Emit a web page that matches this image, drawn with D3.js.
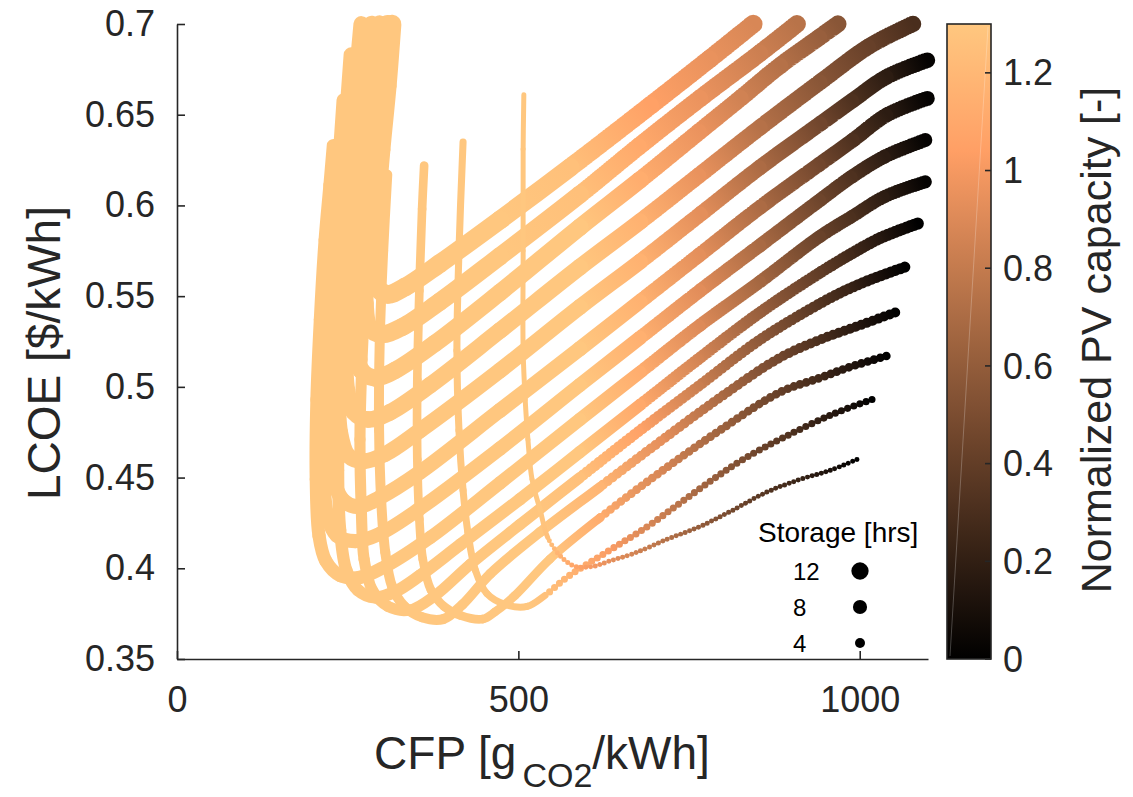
<!DOCTYPE html>
<html>
<head>
<meta charset="utf-8">
<script src="https://cdn.jsdelivr.net/npm/d3@7"></script>
<style>
  body { margin: 0; background: #fff; }
  svg { display: block; font-family: "Liberation Sans", Arial, Helvetica, sans-serif; }
</style>
</head>
<body>
<svg id="chart" width="1133" height="797"></svg>
<script>
// Storage duration of each curve [hrs]
const storageHours = [1, 2, 3, 4, 5, 6, 7, 8, 9, 10, 11, 12, 13, 14];

// Each point: [CFP gCO2/kWh, LCOE $/kWh, normalized PV capacity]
const curveS1 = [[996,0.460,0.00],[957,0.454,0.10],[913,0.449,0.22],[864,0.442,0.34],[814,0.432,0.47],[766,0.423,0.60],[718,0.416,0.73],[668,0.408,0.86],[634,0.404,0.94],[609,0.401,1.00],[583,0.401,1.08],[561,0.407,1.16],[543,0.417,1.25],[532,0.432,1.35],[520,0.449,1.50],[514,0.471,1.70],[510,0.493,1.90],[507,0.520,2.20],[507,0.575,2.70],[507,0.631,3.20],[508,0.661,3.50]];
const curveS2 = [[1018,0.493,0.00],[961,0.485,0.15],[888,0.472,0.35],[829,0.460,0.50],[785,0.449,0.62],[737,0.436,0.75],[689,0.423,0.88],[634,0.410,1.02],[571,0.395,1.18],[539,0.385,1.26],[513,0.379,1.33],[481,0.380,1.42],[454,0.386,1.50],[437,0.399,1.60],[426,0.420,1.75],[419,0.443,1.95],[413,0.476,2.20],[410,0.520,2.60],[413,0.575,3.10],[419,0.635,3.60]];
const curveS3 = [[1039,0.517,0.00],[986,0.511,0.14],[942,0.505,0.26],[883,0.497,0.41],[795,0.476,0.65],[708,0.453,0.88],[620,0.428,1.12],[546,0.405,1.30],[495,0.385,1.45],[466,0.376,1.55],[448,0.372,1.65],[415,0.374,1.75],[391,0.379,1.85],[372,0.388,1.95],[360,0.405,2.10],[355,0.427,2.30],[352,0.460,2.60],[352,0.504,3.00],[355,0.553,3.40],[359,0.598,3.80],[362,0.622,4.00]];
const curveS4 = [[1052,0.541,0.00],[1001,0.534,0.14],[942,0.526,0.30],[883,0.516,0.46],[795,0.494,0.70],[708,0.470,0.94],[620,0.445,1.18],[532,0.420,1.35],[459,0.397,1.50],[418,0.380,1.60],[390,0.372,1.70],[359,0.373,1.80],[333,0.379,1.90],[315,0.390,2.00],[305,0.409,2.15],[299,0.438,2.35],[296,0.476,2.65],[297,0.526,3.00],[302,0.575,3.40],[308,0.617,3.80]];
const curveS5 = [[1066,0.566,0.00],[1015,0.559,0.14],[978,0.553,0.25],[942,0.546,0.34],[854,0.526,0.58],[766,0.501,0.82],[678,0.476,1.06],[590,0.450,1.25],[502,0.424,1.40],[429,0.402,1.55],[378,0.385,1.65],[341,0.377,1.75],[309,0.379,1.85],[286,0.388,1.95],[274,0.405,2.10],[270,0.432,2.30],[268,0.471,2.60],[271,0.515,3.00],[277,0.559,3.40],[284,0.603,3.80]];
const curveS6 = [[1085,0.590,0.00],[1030,0.582,0.15],[986,0.573,0.27],[942,0.563,0.39],[854,0.541,0.62],[766,0.516,0.86],[678,0.490,1.10],[590,0.464,1.30],[502,0.438,1.45],[415,0.413,1.60],[356,0.396,1.70],[319,0.387,1.80],[290,0.384,1.90],[265,0.388,2.00],[248,0.399,2.10],[239,0.421,2.30],[236,0.454,2.60],[239,0.493,2.90],[245,0.537,3.30],[252,0.575,3.70],[259,0.614,4.00]];
const curveS7 = [[1096,0.613,0.02],[1037,0.605,0.18],[989,0.594,0.31],[942,0.583,0.43],[854,0.558,0.67],[766,0.534,0.90],[678,0.508,1.13],[590,0.482,1.30],[473,0.447,1.50],[371,0.417,1.70],[305,0.401,1.85],[268,0.395,1.95],[239,0.396,2.05],[218,0.404,2.15],[208,0.418,2.30],[204,0.449,2.60],[205,0.493,3.00],[210,0.537,3.40],[217,0.581,3.80],[224,0.611,4.10],[229,0.633,4.30]];
const curveS8 = [[1096,0.636,0.02],[1037,0.627,0.18],[989,0.616,0.32],[942,0.603,0.45],[854,0.578,0.69],[766,0.553,0.92],[678,0.527,1.15],[590,0.501,1.32],[473,0.466,1.55],[356,0.433,1.80],[297,0.419,1.95],[261,0.415,2.05],[234,0.418,2.15],[220,0.429,2.30],[214,0.454,2.60],[215,0.493,3.00],[221,0.537,3.40],[230,0.581,3.80],[238,0.625,4.20],[244,0.658,4.50]];
const curveS9 = [[1099,0.659,0.02],[1040,0.650,0.18],[990,0.636,0.32],[942,0.623,0.46],[854,0.599,0.70],[766,0.573,0.93],[678,0.547,1.16],[590,0.521,1.32],[473,0.487,1.60],[356,0.453,1.85],[297,0.439,2.00],[265,0.434,2.10],[242,0.438,2.20],[229,0.450,2.35],[224,0.476,2.60],[226,0.515,3.00],[231,0.559,3.40],[239,0.603,3.80],[248,0.647,4.20],[255,0.683,4.50]];
const curveS10 = [[1099,0.680,0.02],[1040,0.671,0.18],[990,0.658,0.32],[942,0.645,0.46],[854,0.621,0.70],[766,0.595,0.93],[678,0.569,1.16],[590,0.544,1.32],[473,0.509,1.60],[356,0.476,1.85],[305,0.463,2.00],[273,0.459,2.10],[251,0.462,2.20],[239,0.475,2.35],[236,0.504,2.70],[239,0.548,3.10],[246,0.592,3.50],[255,0.636,3.90],[264,0.675,4.30],[270,0.700,4.50]];
const curveS11 = [[1078,0.700,0.30],[1015,0.688,0.42],[942,0.668,0.56],[854,0.643,0.74],[766,0.617,0.95],[678,0.591,1.16],[590,0.566,1.32],[473,0.531,1.60],[371,0.501,1.85],[312,0.486,2.00],[280,0.482,2.10],[259,0.486,2.20],[249,0.498,2.35],[246,0.526,2.70],[250,0.564,3.10],[257,0.609,3.50],[268,0.653,3.90],[278,0.683,4.20],[285,0.700,4.40]];
const curveS12 = [[968,0.700,0.56],[942,0.693,0.62],[883,0.677,0.74],[825,0.659,0.85],[766,0.641,0.96],[678,0.614,1.13],[590,0.588,1.30],[473,0.552,1.60],[378,0.524,1.85],[319,0.509,2.00],[289,0.505,2.10],[270,0.509,2.20],[261,0.523,2.35],[261,0.548,2.65],[266,0.587,3.05],[275,0.631,3.50],[287,0.669,3.90],[297,0.700,4.20]];
const curveS13 = [[908,0.700,0.75],[854,0.684,0.83],[766,0.659,0.96],[678,0.633,1.10],[590,0.606,1.25],[473,0.572,1.50],[385,0.547,1.75],[330,0.533,1.95],[299,0.529,2.05],[281,0.533,2.15],[275,0.546,2.30],[277,0.575,2.65],[284,0.620,3.10],[294,0.658,3.50],[308,0.700,4.00]];
const curveS14 = [[844,0.700,0.88],[781,0.681,0.95],[693,0.655,1.05],[576,0.621,1.25],[473,0.592,1.45],[385,0.568,1.70],[334,0.555,1.90],[308,0.551,2.00],[293,0.555,2.10],[289,0.569,2.30],[292,0.598,2.60],[299,0.631,3.00],[308,0.666,3.40],[315,0.700,3.80]];

const curves = [curveS1, curveS2, curveS3, curveS4, curveS5, curveS6, curveS7,
                curveS8, curveS9, curveS10, curveS11, curveS12, curveS13, curveS14];

// Axis ticks
const xTicks = [0, 500, 1000];
const yTicks = [0.35, 0.40, 0.45, 0.50, 0.55, 0.60, 0.65, 0.70];
const cbTicks = [0, 0.2, 0.4, 0.6, 0.8, 1.0, 1.2];
const legendHours = [12, 8, 4];

// Spacing between successive markers along the sparse (low PV) part of each curve, px
const dotGap = [4.8, 6.5, 6.5, 6, 5, 4, 3, 3, 3, 3, 3, 3, 3, 3];

const ink = "#262626";
const svg = d3.select("#chart");
const defs = svg.append("defs");

const x = d3.scaleLinear().domain([0, 1100]).range([177, 928]);
const y = d3.scaleLinear().domain([0.35, 0.70]).range([659, 24]);
const pvMax = 1.3;
// MATLAB-style "copper" colormap
const copper = t => d3.rgb(255 * Math.min(1, 1.25 * t), 255 * 0.7812 * t, 255 * 0.4975 * t).toString();
const color = d3.scaleSequential(copper).domain([0, pvMax]).clamp(true);
const dia = d3.scaleSqrt().domain([0, 12]).range([0, 17.3]);

// Split a Catmull-Rom curve through the points into one cubic piece per interval
function pieces(points) {
  const out = [];
  let cx = 0, cy = 0;
  const ctx = {
    moveTo(a, b) { cx = a; cy = b; },
    lineTo(a, b) { out.push({ d: `M${cx},${cy}L${a},${b}`, x1: cx, y1: cy, x2: a, y2: b }); cx = a; cy = b; },
    bezierCurveTo(a, b, c, d, e, f) {
      out.push({ d: `M${cx},${cy}C${a},${b},${c},${d},${e},${f}`, x1: cx, y1: cy, x2: e, y2: f });
      cx = e; cy = f;
    },
    closePath() {}
  };
  d3.line().x(p => x(p[0])).y(p => y(p[1]))
    .curve(d3.curveCatmullRom.alpha(0.5)).context(ctx)(points);
  return out;
}

const plot = svg.append("g");
// larger storage first, so the thinner curves lie on top
d3.range(curves.length - 1, -1, -1).forEach(k => {
  const pts = curves[k];
  const w = dia(storageHours[k]);
  const g = plot.append("g");
  let run = 0;
  pieces(pts).forEach((s, i) => {
    const id = `grad${k}_${i}`;
    const lg = defs.append("linearGradient").attr("id", id)
      .attr("gradientUnits", "userSpaceOnUse")
      .attr("x1", s.x1).attr("y1", s.y1).attr("x2", s.x2).attr("y2", s.y2);
    lg.append("stop").attr("offset", 0).attr("stop-color", color(pts[i][2]));
    lg.append("stop").attr("offset", 1).attr("stop-color", color(pts[i + 1][2]));
    const path = g.append("path").attr("d", s.d).attr("fill", "none")
      .attr("stroke", `url(#${id})`).attr("stroke-width", w)
      .attr("stroke-linecap", "round").attr("stroke-linejoin", "round");
    const len = path.node().getTotalLength();
    const sparse = Math.max(pts[i][2], pts[i + 1][2]) <= 1.26;
    if (sparse) {
      path.attr("stroke-dasharray", `0 ${dotGap[k]}`).attr("stroke-dashoffset", run);
    }
    run += len;
  });
});

// Axes
const fontTick = 36;
const yAxis = d3.axisLeft(y).tickValues(yTicks).tickSize(-8).tickSizeOuter(0)
  .tickPadding(22).tickFormat(d3.format("~g"));
const xAxis = d3.axisBottom(x).tickValues(xTicks).tickSize(-8).tickSizeOuter(0)
  .tickPadding(27).tickFormat(d3.format("~g"));

const gy = svg.append("g").attr("transform", "translate(177,0)").call(yAxis);
const gx = svg.append("g").attr("transform", "translate(0,659)").call(xAxis);
[gx, gy].forEach(g => {
  g.select(".domain").attr("stroke", ink).attr("stroke-width", 1.6);
  g.selectAll(".tick line").attr("stroke", ink).attr("stroke-width", 1.6);
  g.selectAll(".tick text").attr("fill", ink).attr("font-size", fontTick)
    .attr("font-family", "Liberation Sans, Arial, sans-serif");
});

// Axis titles
svg.append("text")
  .attr("transform", "translate(60,353) rotate(-90)")
  .attr("text-anchor", "middle").attr("font-size", 46).attr("fill", ink)
  .text("LCOE [$/kWh]");

const xl = svg.append("text").attr("x", 542).attr("y", 769)
  .attr("text-anchor", "middle").attr("font-size", 46).attr("fill", ink);
xl.append("tspan").text("CFP [g");
xl.append("tspan").attr("font-size", 34).attr("dy", 18).attr("dx", 6).text("CO2");
xl.append("tspan").attr("dy", -18).text("/kWh]");

// Colorbar
const cb = d3.scaleLinear().domain([0, pvMax]).range([659, 24]);
const cbGrad = defs.append("linearGradient").attr("id", "cbgrad")
  .attr("x1", 0).attr("y1", 1).attr("x2", 0).attr("y2", 0);
d3.range(0, 1.0001, 0.05).forEach(t => {
  cbGrad.append("stop").attr("offset", t).attr("stop-color", copper(t));
});
svg.append("rect").attr("x", 947).attr("y", cb(pvMax)).attr("width", 44)
  .attr("height", cb(0) - cb(pvMax)).attr("fill", "url(#cbgrad)");
svg.append("line").attr("x1", 950).attr("y1", cb(0) - 3).attr("x2", 988).attr("y2", cb(pvMax) + 3)
  .attr("stroke", "#fff").attr("stroke-opacity", 0.3).attr("stroke-width", 0.8);
svg.append("rect").attr("x", 947).attr("y", cb(pvMax)).attr("width", 44)
  .attr("height", cb(0) - cb(pvMax)).attr("fill", "none").attr("stroke", ink).attr("stroke-width", 1.6);
const cbAxis = svg.append("g");
cbTicks.forEach(v => {
  cbAxis.append("line").attr("x1", 991).attr("x2", 985).attr("y1", cb(v)).attr("y2", cb(v))
    .attr("stroke", ink).attr("stroke-width", 1.6);
  cbAxis.append("text").attr("x", 1003).attr("y", cb(v)).attr("dy", "0.35em")
    .attr("font-size", fontTick).attr("fill", ink).text(d3.format("~g")(v));
});
svg.append("text")
  .attr("transform", "translate(1111,340) rotate(-90)")
  .attr("text-anchor", "middle").attr("font-size", 43).attr("fill", ink)
  .text("Normalized PV capacity [-]");

// Storage size legend
const lg = svg.append("g");
lg.append("text").attr("x", 758).attr("y", 542).attr("font-size", 28).attr("fill", "#000")
  .text("Storage [hrs]");
const legendY = d3.scalePoint().domain(legendHours).range([571, 643]);
legendHours.forEach(h => {
  lg.append("text").attr("x", 793).attr("y", legendY(h)).attr("dy", "0.36em")
    .attr("font-size", 24).attr("fill", "#000").text(h);
  lg.append("circle").attr("cx", 860).attr("cy", legendY(h)).attr("r", dia(h) / 2).attr("fill", "#000");
});
</script>
</body>
</html>
